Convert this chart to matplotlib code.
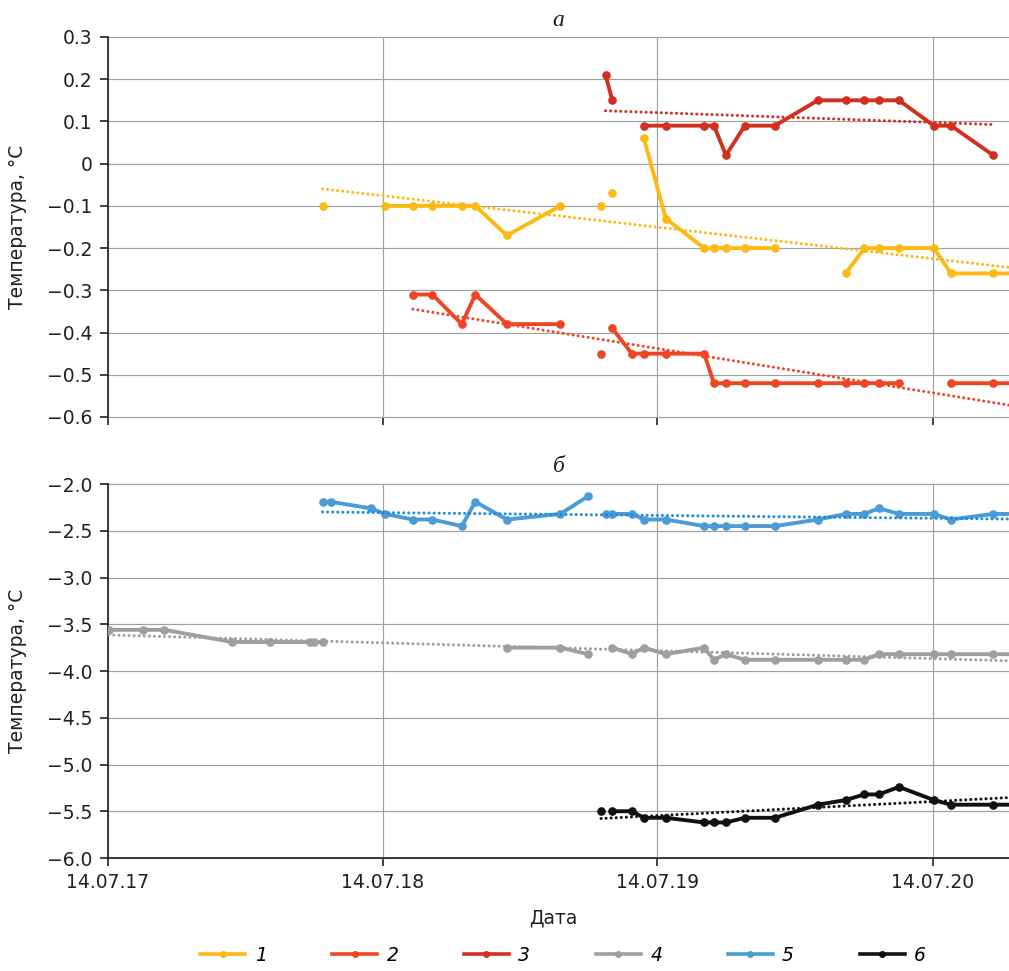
import numpy as np
import matplotlib
matplotlib.use('Agg')
import matplotlib.pyplot as plt
import matplotlib.dates as mdates
from matplotlib.lines import Line2D
from matplotlib.ticker import FuncFormatter, MultipleLocator

plt.rcParams['font.family'] = ['DejaVu Sans']
plt.rcParams['font.size'] = 13.5

nan = np.nan

# даты измерений (общая шкала для всех рядов)
dates = np.array([
    '2017-07-15', '2017-08-30', '2017-09-27', '2017-12-26', '2018-02-14',
    '2018-04-08', '2018-04-14', '2018-04-25', '2018-05-06', '2018-06-28',
    '2018-07-17', '2018-08-23', '2018-09-18', '2018-10-27', '2018-11-14',
    '2018-12-26', '2019-03-07', '2019-04-13', '2019-04-30', '2019-05-06',
    '2019-05-15', '2019-06-10', '2019-06-26', '2019-07-25', '2019-09-14',
    '2019-09-27', '2019-10-13', '2019-11-07', '2019-12-17', '2020-02-12',
    '2020-03-20', '2020-04-14', '2020-05-03', '2020-05-30', '2020-07-15',
    '2020-08-07', '2020-10-02', '2020-11-10'], dtype='datetime64[D]')

# а: скважины 1-3
t1 = [nan] * 7 + [-0.10, nan, nan, -0.10, -0.10, -0.10, -0.10, -0.10,
      -0.17, -0.10, nan, -0.10, nan, -0.07, nan, 0.06, -0.13,
      -0.20, -0.20, -0.20, -0.20, -0.20, nan, -0.26,
      -0.20, -0.20, -0.20, -0.20, -0.26, -0.26, -0.26]
t2 = [nan] * 11 + [-0.31, -0.31, -0.38, -0.31, -0.38, -0.38, nan, -0.45,
      nan, -0.39, -0.45, -0.45, -0.45, -0.45] + [-0.52] * 9 + [nan, -0.52, -0.52, -0.52]
t3 = [nan] * 19 + [0.21, 0.15, nan, 0.09, 0.09, 0.09, 0.09, 0.02, 0.09, 0.09,
      0.15, 0.15, 0.15, 0.15, 0.15, 0.09, 0.09, 0.02, nan]

# б: скважины 4-6
t4 = [-3.56, -3.56, -3.56, -3.69, -3.69, -3.69, -3.69, -3.69] + [nan] * 7 + \
     [-3.75, -3.75, -3.82, nan, nan, -3.75, -3.82, -3.75, -3.82, -3.75, -3.88,
      -3.82, -3.88, -3.88, -3.88, -3.88, -3.88, -3.82, -3.82, -3.82, -3.82,
      -3.82, -3.82]
t5 = [nan] * 7 + [-2.19, -2.19, -2.26, -2.32, -2.38, -2.38, -2.45, -2.19,
      -2.38, -2.32, -2.13, nan, -2.32, -2.32, -2.32, -2.38, -2.38,
      -2.45, -2.45, -2.45, -2.45, -2.45, -2.38, -2.32, -2.32, -2.26,
      -2.32, -2.32, -2.38, -2.32, -2.32]
t6 = [nan] * 18 + [-5.50, nan, -5.50, -5.50, -5.57, -5.57, -5.62, -5.62,
      -5.62, -5.57, -5.57, -5.43, -5.38, -5.32, -5.32, -5.24, -5.38,
      -5.43, -5.43, -5.43]

labels = ['1', '2', '3', '4', '5', '6']
colors = ['#fdb913', '#ee4524', '#d12f20', '#9d9fa0', '#4b9bd6', '#111111']
trend_colors = ['#fdb913', '#ee4524', '#d12f20', '#9d9fa0', '#1a8fd9', '#111111']

ink = '#231f20'
xnum = mdates.date2num(dates)


def draw(ax, values, color, tcolor):
    y = np.array(values, dtype=float)
    ax.plot(dates, y, '-o', color=color, lw=2.8, ms=5.2, zorder=3)
    # линейный тренд по имеющимся точкам
    ok = ~np.isnan(y)
    k, b = np.polyfit(xnum[ok], y[ok], 1)
    xs = np.array([xnum[ok][0], xnum[ok][-1]])
    ax.plot(mdates.num2date(xs), k * xs + b, color=tcolor, lw=2.2,
            linestyle=(0, (0.01, 1.65)), dash_capstyle='round', zorder=4)


def fmt(v, pos):
    if abs(v) < 1e-9:
        return '0'
    return ('%.1f' % v).replace('-', '\u2212')


fig = plt.figure(figsize=(10.09, 9.71), dpi=100)
ax1 = fig.add_axes([108 / 1009, 1 - 417 / 971, 901 / 1009, 380 / 971])
ax2 = fig.add_axes([108 / 1009, 1 - 858 / 971, 901 / 1009, 374 / 971])

for i, vals in enumerate([t1, t2, t3]):
    draw(ax1, vals, colors[i], trend_colors[i])
for i, vals in enumerate([t4, t5, t6]):
    draw(ax2, vals, colors[i + 3], trend_colors[i + 3])

ax1.set_ylim(-0.6, 0.3)
ax1.yaxis.set_major_locator(MultipleLocator(0.1))
ax2.set_ylim(-6.0, -2.0)
ax2.yaxis.set_major_locator(MultipleLocator(0.5))

years = np.array(['2017-07-14', '2018-07-14', '2019-07-14', '2020-07-14'],
                 dtype='datetime64[D]')
for ax in (ax1, ax2):
    ax.set_xlim(np.datetime64('2017-07-14'), np.datetime64('2020-10-23'))
    ax.set_xticks(years)
    ax.xaxis.set_major_formatter(mdates.DateFormatter('%d.%m.%y'))
    ax.yaxis.set_major_formatter(FuncFormatter(fmt))
    ax.grid(True, color='#a0a0a0', lw=0.85)
    for gl in ax.get_ygridlines():
        gl.set_clip_on(False)
    ax.set_axisbelow(True)
    for s in ('top', 'right'):
        ax.spines[s].set_visible(False)
    ax.spines['left'].set_color(ink)
    ax.spines['left'].set_linewidth(1.2)
    ax.spines['bottom'].set_color(ink)
    ax.spines['bottom'].set_linewidth(1.2)
    ax.tick_params(direction='out', length=6, width=1.2, color=ink,
                   labelcolor=ink, labelsize=13.5, pad=5)
    ax.set_ylabel('Температура, °C', fontsize=13.5, color=ink)
    ax.yaxis.set_label_coords(-0.090, 0.5)

ax1.spines['bottom'].set_visible(False)
ax1.tick_params(axis='x', labelbottom=False)

ax1.set_title('а', fontstyle='italic', family='Liberation Serif',
              fontsize=17, pad=8, color=ink)
ax2.set_title('б', fontstyle='italic', family='Liberation Serif',
              fontsize=17, pad=9, color=ink)

ax2.set_xlabel('Дата', fontsize=13.5, color=ink)
ax2.xaxis.set_label_coords(0.494, -0.135)

handles = [Line2D([], [], color=c, lw=2.6, marker='o', ms=4) for c in colors]
fig.legend(handles, labels, loc='center', bbox_to_anchor=(0.558, 1 - 955 / 971),
           ncol=6, frameon=False, handlelength=2.4, handletextpad=0.5,
           columnspacing=3.5, prop={'style': 'italic', 'size': 13.5})

fig.savefig('out.png', dpi=100)
